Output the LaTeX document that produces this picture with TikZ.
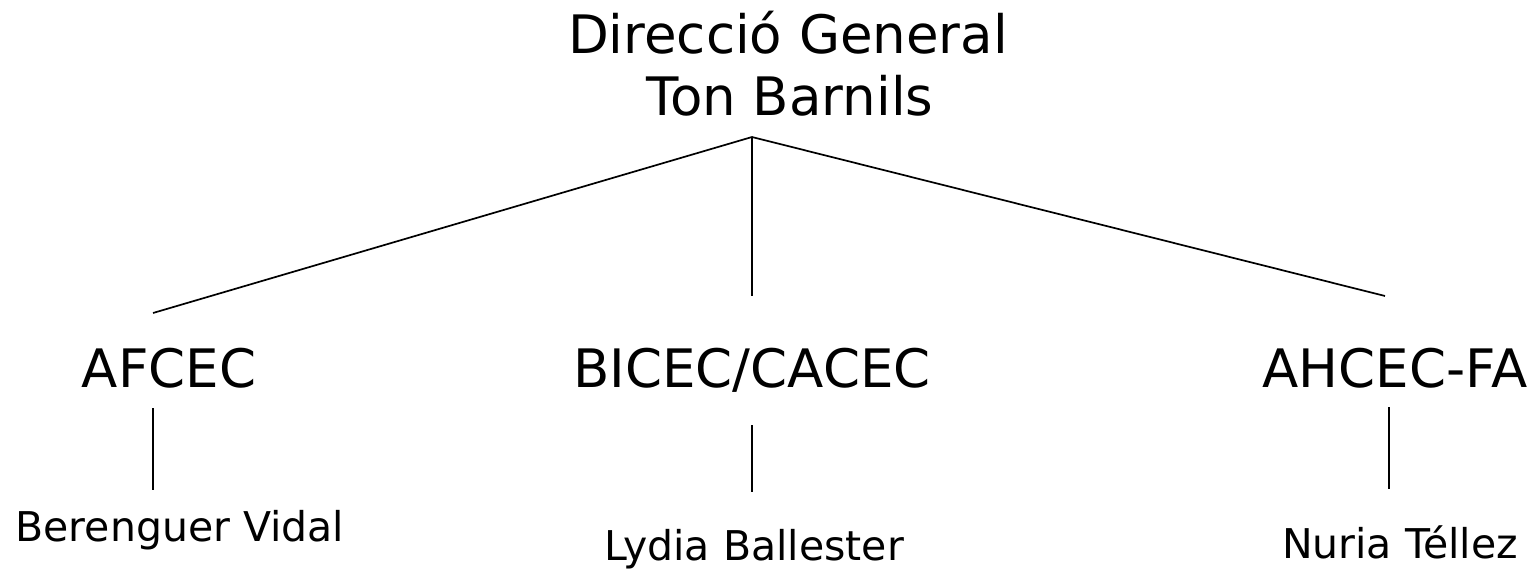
\documentclass[tikz,border=0pt]{standalone}
\usepackage{fontspec}
\setmainfont{DejaVu Sans}
\begin{document}
\begin{tikzpicture}[x=1pt,y=-1pt,
  big/.style={font=\fontsize{53}{62}\selectfont, inner sep=0pt, anchor=base},
  small/.style={font=\fontsize{41}{48}\selectfont, inner sep=0pt, anchor=base},
  conn/.style={line width=1.7pt, black}]
\useasboundingbox (0,0) rectangle (1539,573);
\node[big] (t1) at (788,53) {Direcció General};
\node[big] (t2) at (790,115) {Ton Barnils};
\node[big] (a) at (169,387) {AFCEC};
\node[big] (b) at (752,387) {BICEC/CACEC};
\node[big] (c) at (1395,387) {AHCEC-FA};
\node[small] (pa) at (180,541) {Berenguer Vidal};
\node[small] (pb) at (754,560) {Lydia Ballester};
\node[small] (pc) at (1400,558) {Nuria Téllez};
\coordinate (apex) at (752,137);
\coordinate (ea) at (153,313);
\coordinate (eb) at (752,296);
\coordinate (ec) at (1385,296);
\coordinate (a1) at (153,408);
\coordinate (a2) at (153,490);
\coordinate (b1) at (752,425);
\coordinate (b2) at (752,492);
\coordinate (c1) at (1389,407);
\coordinate (c2) at (1389,489);
\draw[conn] (ea) -- (apex) -- (ec);
\draw[conn] (apex) -- (eb);
\draw[conn] (a1) -- (a2);
\draw[conn] (b1) -- (b2);
\draw[conn] (c1) -- (c2);
\end{tikzpicture}
\end{document}
